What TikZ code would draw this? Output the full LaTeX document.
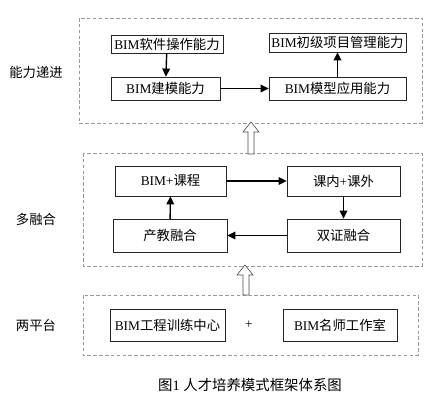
\documentclass[tikz,border=0pt]{standalone}
\usepackage{fontspec}
\setmainfont{Liberation Serif}
\newfontfamily\cjk{Noto Sans CJK SC}
\usetikzlibrary{arrows.meta}

\tikzset{
  box/.style={draw=black!85,thin,fill=white,inner sep=0pt,font=\fontsize{11.4}{13}\selectfont},
  group/.style={draw=gray!80,thin,dash pattern=on 3pt off 2pt},
  link/.style={line width=1.2pt,-{Triangle[length=7pt,width=6.5pt]}},
  hollow/.style={draw=black!70,line width=0.5pt,fill=white,line join=miter},
  side/.style={font=\fontsize{11.4}{13}\selectfont\cjk}
}

\begin{document}
\begin{tikzpicture}[x=0.03cm,y=-0.03cm]
  \useasboundingbox (0,0) rectangle (431,400);

  % Layers
  \draw[group] (79,18) rectangle (422,123);
  \draw[group] (83,153) rectangle (422,266);
  \draw[group] (83,295) rectangle (418,355);

  % Layer labels
  \node[side] (lab1) at (36,72) {能力递进};
  \node[side] (lab2) at (36,219) {多融合};
  \node[side] (lab3) at (36,325) {两平台};

  % Top layer
  \node[box,minimum width=3.36cm,minimum height=0.55cm] (soft) at (167,44) {BIM{\cjk 软件操作能力}};
  \node[box,minimum width=3.27cm,minimum height=0.69cm] (model) at (165.5,88.5) {BIM{\cjk 建模能力}};
  \node[box,minimum width=4.11cm,minimum height=0.57cm] (mgmt) at (337.5,42.5) {BIM{\cjk 初级项目管理能力}};
  \node[box,minimum width=4.11cm,minimum height=0.69cm] (apply) at (337.5,88.5) {BIM{\cjk 模型应用能力}};

  \draw[link] (soft) -- (model);
  \draw[link] (model) -- (apply);
  \draw[link] (apply) -- (mgmt);

  % Middle layer
  \node[box,minimum width=3.33cm,minimum height=0.9cm] (course) at (170.5,181) {BIM+{\cjk 课程}};
  \node[box,minimum width=3.39cm,minimum height=0.9cm] (inout) at (343.5,181) {{\cjk 课内}+{\cjk 课外}};
  \node[box,minimum width=3.42cm,minimum height=0.99cm] (industry) at (170,235.5) {\cjk 产教融合};
  \node[box,minimum width=3.39cm,minimum height=0.99cm] (cert) at (343.5,235.5) {\cjk 双证融合};

  \draw[link] (course) -- (inout);
  \draw[link] (inout) -- (cert);
  \draw[link] (cert) -- (industry);
  \draw[link] (industry) -- (course);

  % Bottom layer
  \node[box,minimum width=3.45cm,minimum height=0.96cm] (train) at (167.5,325) {BIM{\cjk 工程训练中心}};
  \node[box,minimum width=3.42cm,minimum height=0.96cm] (studio) at (340,325) {BIM{\cjk 名师工作室}};
  \node[font=\fontsize{11.4}{13}\selectfont] (plus) at (249,325) {+};

  % Hollow arrows between layers
  \draw[hollow] (248,154) -- (248,132) -- (243,132) -- (251,122) -- (259,132) -- (254,132) -- (254,154) -- cycle;
  \draw[hollow] (243,295) -- (243,275) -- (237,275) -- (245,265) -- (253,275) -- (249,275) -- (249,295) -- cycle;

  % Caption
  \node[font=\fontsize{12.3}{14}\selectfont] (cap) at (250,385) {{\cjk 图}1 {\cjk 人才培养模式框架体系图}};
\end{tikzpicture}
\end{document}
